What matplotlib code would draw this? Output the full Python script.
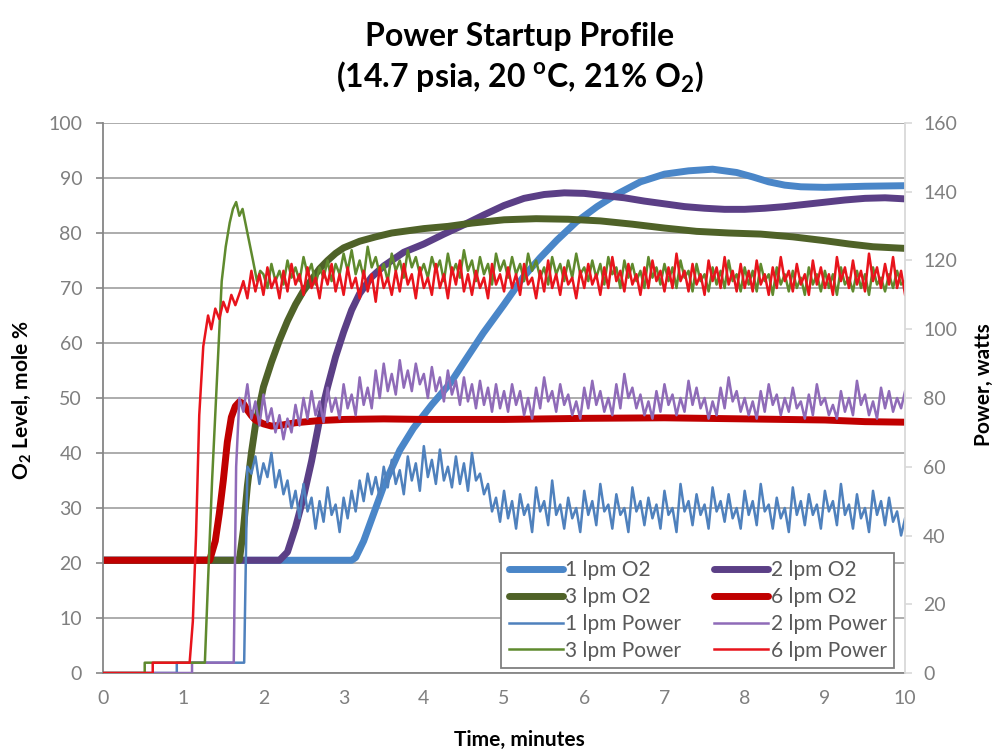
import numpy as np
import matplotlib.pyplot as plt

plt.rcParams['font.family'] = ['Lato', 'DejaVu Sans']
plt.rcParams['mathtext.fontset'] = 'custom'
plt.rcParams['mathtext.rm'] = 'Lato'
plt.rcParams['mathtext.bf'] = 'Lato:bold'

# ---- O2 level (left axis, mole %) ----
o2_1_t = [0, 3.1, 3.15, 3.25, 3.35, 3.5, 3.7, 3.87, 4.1, 4.33, 4.5, 4.74, 5.0, 5.24, 5.45, 5.66,
          5.9, 6.16, 6.4, 6.7, 7.0, 7.3, 7.6, 7.9, 8.1, 8.3, 8.5, 8.7, 9.0, 9.5, 10]
o2_1_v = [20.5, 20.5, 21, 24, 28, 34, 40.5, 44.5, 48.8, 52.7, 56.5, 61.8, 67, 72, 75.5, 78.7,
          82, 84.8, 87, 89.3, 90.7, 91.3, 91.6, 91, 90.2, 89.3, 88.7, 88.4, 88.3, 88.5, 88.6]

o2_2_t = [0, 2.2, 2.3, 2.4, 2.5, 2.6, 2.7, 2.8, 2.9, 3.0, 3.1, 3.2, 3.35, 3.5, 3.75, 4.0, 4.25, 4.5,
          4.75, 5.0, 5.25, 5.5, 5.75, 6.0, 6.25, 6.5, 6.75, 7.0, 7.25, 7.5, 7.75, 8.0, 8.25, 8.5,
          8.75, 9.0, 9.25, 9.5, 9.75, 10]
o2_2_v = [20.5, 20.5, 22, 26.5, 32, 38.5, 46, 52, 57.5, 62, 66, 69, 72, 74, 76.5, 78, 79.8, 81.5,
          83.3, 85, 86.3, 87, 87.3, 87.2, 86.8, 86.4, 85.8, 85.3, 84.8, 84.5, 84.3, 84.3, 84.5, 84.8,
          85.2, 85.6, 86, 86.3, 86.4, 86.2]

o2_3_t = [0, 1.7, 1.75, 1.8, 1.85, 1.9, 2.0, 2.1, 2.2, 2.3, 2.4, 2.5, 2.6, 2.7, 2.8, 2.9, 3.0, 3.2,
          3.4, 3.6, 3.8, 4.0, 4.3, 4.6, 5.0, 5.4, 5.8, 6.2, 6.6, 7.0, 7.4, 7.8, 8.2, 8.6, 9.0, 9.3, 9.6, 10]
o2_3_v = [20.5, 20.5, 26, 34, 40, 45, 52, 56.5, 60.5, 64, 67, 69.5, 71.5, 73.5, 75, 76.3, 77.3, 78.5,
          79.3, 80, 80.4, 80.8, 81.2, 81.8, 82.4, 82.6, 82.5, 82.2, 81.6, 80.9, 80.3, 80.0, 79.8, 79.3,
          78.6, 78.0, 77.5, 77.2]

o2_6_t = [0, 1.33, 1.4, 1.45, 1.5, 1.55, 1.6, 1.65, 1.7, 1.75, 1.8, 1.85, 1.9, 2.0, 2.1, 2.2, 2.4,
          2.7, 3.0, 3.5, 4.0, 5.0, 6.0, 7.0, 8.0, 9.0, 9.5, 10]
o2_6_v = [20.5, 20.5, 24, 29, 35, 42, 46.5, 48.5, 49.3, 49, 47.8, 46.8, 46, 45.3, 44.9, 45.0, 45.5,
          45.9, 46.1, 46.2, 46.1, 46.1, 46.3, 46.4, 46.2, 46.0, 45.7, 45.6]

# ---- Power (right axis, watts) ----
# startup part (t, W), then noisy readings every 0.05 min up to 10 min
p1_start_t = [0, 0.92, 0.92, 1.76]
p1_start_v = [0, 0, 3, 3]
p1_noise_t0 = 1.80
p1_noise = [60, 58, 63, 55, 61, 57, 64, 54, 59, 52, 56, 48, 53, 45, 55, 47, 51, 42, 50, 44,
            54, 46, 49, 41, 51, 45, 53, 47, 56, 50, 58, 52, 57, 51, 60, 54, 62, 55, 59, 52,
            63, 56, 61, 53, 66, 57, 62, 55, 65, 56, 60, 54, 63, 55, 61, 53, 64, 56, 58, 52,
            55, 47, 51, 44, 53, 45, 50, 42, 52, 46, 49, 41, 54, 47, 50, 43, 56, 46, 49, 42,
            51, 45, 48, 41, 53, 46, 50, 43, 55, 47, 49, 42, 52, 46, 48, 41, 54, 47, 50, 43,
            51, 45, 49, 42, 53, 46, 48, 41, 55, 47, 50, 43, 52, 46, 49, 42, 54, 47, 50, 44,
            52, 45, 48, 42, 53, 46, 50, 43, 55, 47, 49, 42, 51, 45, 48, 41, 54, 46, 50, 43,
            52, 46, 49, 42, 53, 47, 50, 43, 55, 46, 49, 42, 52, 45, 48, 41, 53, 46, 50, 43,
            51, 44, 47, 40, 45]

p2_start_t = [0, 1.11, 1.11, 1.63, 1.66]
p2_start_v = [0, 0, 3, 3, 60]
p2_noise_t0 = 1.70
p2_noise = [80, 76, 84, 74, 79, 72, 81, 73, 77, 70, 75, 68, 74, 70, 78, 72, 80, 74, 82, 75,
            79, 73, 83, 76, 80, 74, 84, 77, 81, 75, 86, 78, 83, 77, 88, 80, 90, 82, 87, 81,
            91, 83, 88, 82, 90, 84, 87, 80, 89, 82, 86, 79, 88, 81, 85, 78, 86, 79, 84, 77,
            85, 78, 83, 76, 84, 77, 82,
            76, 84, 78, 82, 75, 80, 74, 83, 77, 86, 79, 82, 76, 84, 78, 81, 75, 79, 74, 83,
            77, 85, 78, 82, 76, 80, 75, 84, 77, 87, 80, 83, 77, 81, 75, 79, 74, 82, 76, 84,
            78, 81, 75, 80, 76, 85, 78, 83, 77, 80, 74, 79, 75, 83, 77, 86, 79, 82, 76, 80,
            75, 79, 74, 82, 76, 84, 78, 81, 75, 80, 76, 83, 77, 79, 74, 81, 75, 84, 78, 80,
            75, 78, 74, 82, 76, 80, 75, 85, 78, 81, 75, 79, 74, 83, 77, 82, 76, 80, 77, 82]

p3_start_t = [0, 0.52, 0.52, 1.27, 1.31, 1.36, 1.42, 1.48, 1.53, 1.58, 1.62, 1.66, 1.7, 1.74,
              1.81, 1.87, 1.92, 1.96]
p3_start_v = [0, 0, 3, 3, 27, 56, 85, 114, 124, 131, 135, 137, 133, 135, 127, 120, 114, 117]
p3_noise_t0 = 2.00
p3_noise = [116, 112, 119, 114, 117, 113, 120, 115, 118, 114, 121, 116, 119, 113, 118, 115, 120, 114, 119, 116, 122,
            117, 123, 116, 120, 115, 124, 118, 121, 116, 119, 114, 122, 117, 120, 115, 123, 118, 121, 116, 119,
            115, 121, 117, 120, 114, 122, 116, 119, 115, 123, 117, 120, 114, 121, 116, 119, 113, 122, 117, 120,
            115, 121, 116, 119, 114, 122, 117, 120, 115, 118, 113, 121, 116, 119, 114, 120, 115, 122, 116, 118,
            114, 120, 115, 119, 113, 121, 116, 118, 112, 120, 115, 119, 114, 117, 112, 121, 115, 118, 113, 119,
            114, 118, 112, 120, 115, 117, 111, 119, 114, 116, 111, 118, 113, 117, 112, 120, 114, 116, 111, 118,
            113, 117, 111, 119, 114, 116, 110, 118, 113, 116, 111, 117, 112, 115, 110, 118, 113, 116, 111, 117,
            112, 116, 110, 118, 113, 115, 111, 117, 112, 116, 110, 118, 113, 115, 111, 116, 112, 117, 113, 114]

p6_start_t = [0, 0.62, 0.62, 1.08, 1.12, 1.16, 1.2, 1.25, 1.31, 1.35, 1.4, 1.45, 1.5, 1.55, 1.6,
              1.65, 1.71]
p6_start_v = [0, 0, 3, 3, 15, 40, 75, 95, 104, 100, 106, 103, 108, 105, 110, 107, 111]
p6_noise_t0 = 1.75
p6_noise = [114, 109, 117, 111, 116, 110,
            118, 112, 115, 109, 117, 111, 119, 113, 116, 110, 118, 112, 115, 109, 117, 113, 119, 111, 116, 110,
            118, 112, 115, 109, 117, 111, 116, 108, 118, 112, 115, 110, 117, 111, 119, 113, 116, 109, 118, 112,
            115, 110, 119, 112, 116, 109, 118, 113, 120, 111, 116, 110, 117, 112, 115, 109, 119, 113, 116, 111,
            118, 112, 116, 110, 119, 113, 115, 109, 117, 111, 120, 112, 116, 110, 118, 113, 115, 109, 117, 112,
            119, 113, 116, 110, 118, 112, 121, 114, 117, 111, 119, 113, 116, 110, 118, 112, 120, 114, 117, 111,
            118, 112, 122, 114, 117, 111, 119, 113, 116, 110, 120, 114, 118, 112, 121, 113, 117, 111, 119, 112,
            117, 111, 120, 113, 116, 110, 118, 112, 121, 114, 117, 111, 119, 113, 116, 110, 120, 113, 118, 112,
            116, 110, 121, 114, 118, 112, 120, 113, 117, 111, 122, 114, 118, 112, 119, 113, 121, 112, 117, 110]

C_O2 = {'1': '#4a86c8', '2': '#5b3f86', '3': '#4f6228', '6': '#c00000'}
C_PW = {'1': '#4f81bd', '2': '#8f6bb8', '3': '#5f8a2e', '6': '#e8141c'}


def power_series(t_start, v_start, t0, noise):
    t = np.concatenate([t_start, np.linspace(t0, 10.0, len(noise))])
    v = np.concatenate([v_start, noise])
    return t, v


fig = plt.figure(figsize=(9.99, 7.55), dpi=100)
ax = fig.add_axes([0.1031, 0.1086, 0.8029, 0.7285])
ax2 = ax.twinx()

grid_c = '#a6a6a6'
tick_c = '#7f7f7f'

ax.set_xlim(0, 10)
ax.set_ylim(0, 100)
ax.set_yticks(np.arange(0, 101, 10))
ax.set_xticks(np.arange(0, 11, 1))
ax.yaxis.grid(True, color=grid_c, lw=1.3)
ax.set_axisbelow(True)
for s in ['top', 'right']:
    ax.spines[s].set_visible(False)
ax.spines['left'].set_color('#868686')
ax.spines['bottom'].set_color('#868686')
ax.spines['left'].set_linewidth(1.3)
ax.spines['bottom'].set_linewidth(1.3)
ax.tick_params(axis='y', colors='#868686', labelcolor=tick_c, labelsize=14,
               direction='out', length=5, width=1.2, pad=10)
ax.tick_params(axis='x', colors='#868686', labelcolor=tick_c, labelsize=14,
               length=0, pad=12)

ax2.set_ylim(0, 160)
ax2.set_yticks(np.arange(0, 161, 20))
for s in ['top', 'left', 'bottom']:
    ax2.spines[s].set_visible(False)
ax2.spines['right'].set_color('#d9d9d9')
ax2.spines['right'].set_linewidth(1.3)
ax2.tick_params(axis='y', colors='#d9d9d9', labelcolor=tick_c, labelsize=14,
                direction='out', length=5, width=1.2, pad=8)

h = {}
h['o1'], = ax.plot(o2_1_t, o2_1_v, color=C_O2['1'], lw=5, solid_capstyle='round', label='1 lpm O2')
h['o2'], = ax.plot(o2_2_t, o2_2_v, color=C_O2['2'], lw=5, solid_capstyle='round', label='2 lpm O2')
h['o3'], = ax.plot(o2_3_t, o2_3_v, color=C_O2['3'], lw=5, solid_capstyle='round', label='3 lpm O2')
h['o6'], = ax.plot(o2_6_t, o2_6_v, color=C_O2['6'], lw=5, solid_capstyle='round', label='6 lpm O2')

t, v = power_series(p1_start_t, p1_start_v, p1_noise_t0, p1_noise)
h['p1'], = ax2.plot(t, v, color=C_PW['1'], lw=1.8, label='1 lpm Power')
t, v = power_series(p2_start_t, p2_start_v, p2_noise_t0, p2_noise)
h['p2'], = ax2.plot(t, v, color=C_PW['2'], lw=1.8, label='2 lpm Power')
t, v = power_series(p3_start_t, p3_start_v, p3_noise_t0, p3_noise)
h['p3'], = ax2.plot(t, v, color=C_PW['3'], lw=1.8, label='3 lpm Power')
t, v = power_series(p6_start_t, p6_start_v, p6_noise_t0, p6_noise)
h['p6'], = ax2.plot(t, v, color=C_PW['6'], lw=1.8, label='6 lpm Power')

order = ['o1', 'o3', 'p1', 'p3', 'o2', 'o6', 'p2', 'p6']
leg = ax2.legend([h[k] for k in order], [h[k].get_label() for k in order],
                 ncol=2, loc='lower right', bbox_to_anchor=(0.986, 0.009),
                 borderaxespad=0, fontsize=15, frameon=True, fancybox=False, framealpha=1,
                 edgecolor='#7f7f7f', handlelength=2.6, handletextpad=0.1,
                 columnspacing=1.6, labelspacing=0.33, borderpad=0.35)
leg.get_frame().set_linewidth(1.3)
for txt in leg.get_texts():
    txt.set_color('#595959')

fig.text(0.52, 0.952, 'Power Startup Profile', ha='center', va='center',
         fontsize=23, fontweight='bold')
fig.text(0.52, 0.898, r'(14.7 psia, 20 $^{\mathbf{o}}$C, 21% O$_{\mathbf{2}}$)', ha='center',
         va='center', fontsize=23, fontweight='bold')
fig.text(0.52, 0.02, 'Time, minutes', ha='center', va='center', fontsize=15, fontweight='bold')
fig.text(0.022, 0.47, r'O$_{\mathbf{2}}$ Level, mole %', ha='center', va='center', rotation=90,
         fontsize=15, fontweight='bold')
fig.text(0.985, 0.49, 'Power, watts', ha='center', va='center', rotation=90,
         fontsize=15, fontweight='bold')

fig.savefig('out.png', dpi=100)
